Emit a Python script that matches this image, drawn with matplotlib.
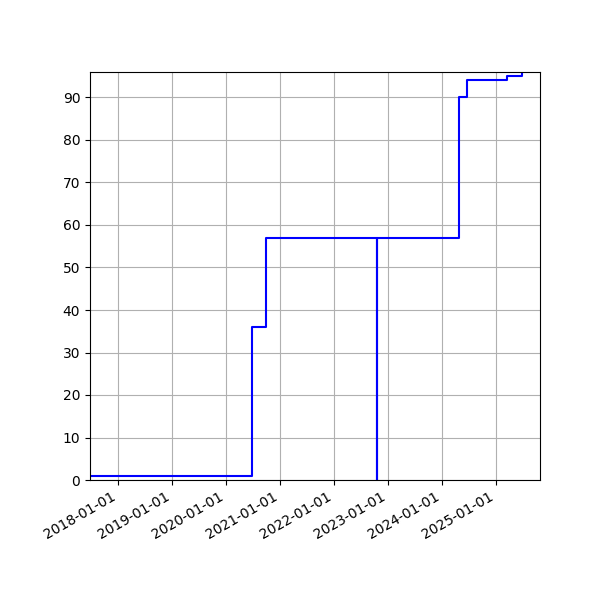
import matplotlib
matplotlib.use("Agg")
import matplotlib.pyplot as plt
import matplotlib.dates as mdates
import numpy as np

dates = ["2017-06-26", "2020-06-27", "2020-09-26", "2022-10-16", "2022-10-17",
         "2024-04-23", "2024-06-16", "2025-03-18", "2025-06-27"]
values = [1, 36, 57, 0, 57, 90, 94, 95, 96]
xlim = ["2017-06-26", "2025-10-25"]

x = [np.datetime64(d) for d in dates]

fig = plt.figure(figsize=(6, 6), dpi=100)
ax = fig.add_axes([0.15, 0.2, 0.75, 0.68])
ax.step(x, values, where="post", color="blue", linewidth=1.5)
ax.set_xlim(np.datetime64(xlim[0]), np.datetime64(xlim[1]))
ax.set_ylim(0, 96)
ax.set_yticks(range(0, 91, 10))
ax.xaxis.set_major_locator(mdates.YearLocator())
ax.xaxis.set_major_formatter(mdates.DateFormatter("%Y-%m-%d"))
ax.grid(True)
for lab in ax.get_xticklabels():
    lab.set_rotation(30)
    lab.set_ha("right")
fig.savefig("out.png", dpi=100)
